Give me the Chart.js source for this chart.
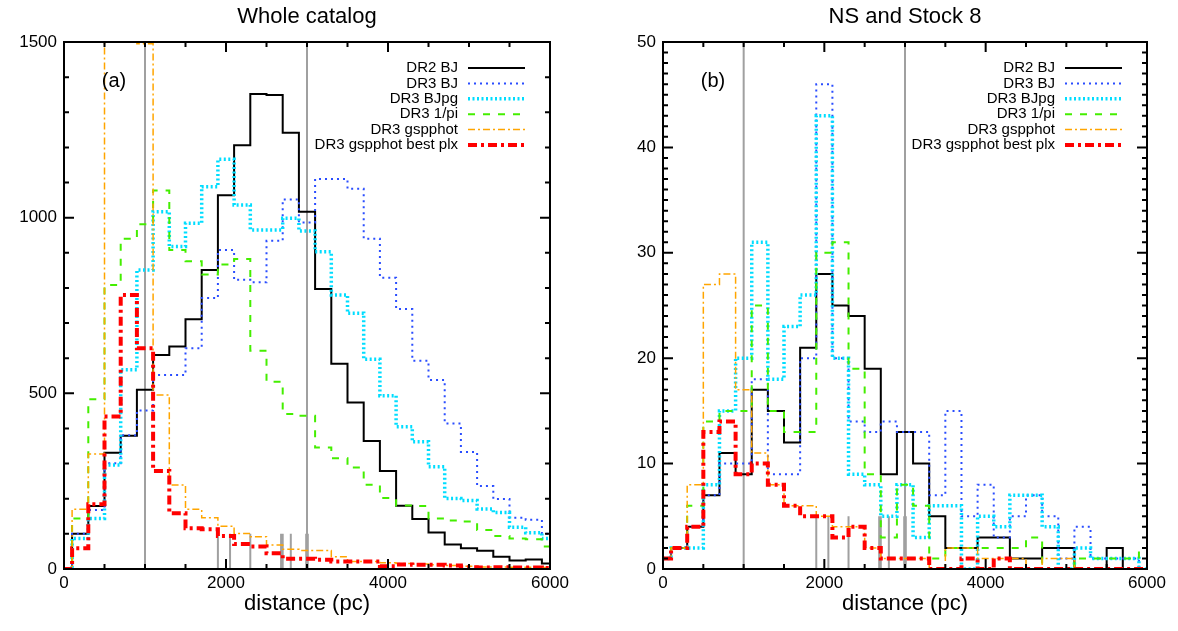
<!DOCTYPE html>
<html>
<head>
<meta charset="utf-8">
<script src="https://cdn.jsdelivr.net/npm/chart.js@4.4.1/dist/chart.umd.min.js"></script>
<style>
  html, body { margin: 0; padding: 0; background: #fff; }
  #wrap { position: relative; width: 1178px; height: 631px; }
  .box { position: absolute; top: 0; width: 589px; height: 631px; }
</style>
</head>
<body>
<div id="wrap">
  <div class="box" style="left:0"><canvas id="catChart" width="589" height="631"></canvas></div>
  <div class="box" style="left:589px"><canvas id="nsChart" width="589" height="631"></canvas></div>
</div>
<script>
// bin centres (pc), 200 pc wide bins
const binCenters = [0, 200, 400, 600, 800, 1000, 1200, 1400, 1600, 1800, 2000, 2200, 2400, 2600, 2800, 3000,
  3200, 3400, 3600, 3800, 4000, 4200, 4400, 4600, 4800, 5000, 5200, 5400, 5600, 5800, 6000];

const seriesNames = ["DR2 BJ", "DR3 BJ", "DR3 BJpg", "DR3 1/pi", "DR3 gspphot", "DR3 gspphot best plx"];

// (a) whole catalog
const catDR2BJ   = [0, 100, 179, 331, 379, 510, 609, 633, 711, 851, 1064, 1206, 1352, 1349, 1242, 1017, 797, 584, 474, 364, 279, 180, 142, 104, 70, 59, 52, 35, 24, 27, 16];
const catDR3BJ   = [0, 100, 168, 301, 381, 451, 552, 552, 628, 771, 908, 823, 816, 934, 1052, 986, 1110, 1110, 1082, 940, 829, 740, 593, 538, 414, 333, 236, 199, 146, 140, 100];
const catDR3BJpg = [0, 87, 144, 296, 567, 851, 1017, 918, 984, 1088, 1166, 1036, 965, 965, 998, 962, 903, 780, 728, 597, 493, 405, 362, 291, 201, 195, 171, 161, 119, 103, 87];
const catDR3Pi   = [0, 144, 483, 808, 940, 981, 1077, 908, 876, 838, 867, 882, 621, 533, 441, 436, 346, 315, 289, 240, 202, 181, 179, 144, 138, 135, 111, 94, 87, 85, 64];
const catGsp     = [0, 170, 327, 2400, 2100, 1495, 495, 239, 170, 146, 122, 101, 92, 68, 56, 53, 53, 35, 21, 21, 18, 16, 14, 12, 10, 8, 6, 6, 5, 5, 4];
const catGspBest = [0, 59, 184, 434, 780, 628, 279, 159, 116, 113, 94, 71, 64, 45, 29, 29, 26, 21, 21, 21, 8, 13, 12, 12, 10, 5, 4, 5, 4, 4, 3];

// (b) NS and Stock 8
const nsDR2BJ   = [1, 2, 4, 7, 11, 9, 17, 15, 12, 21, 28, 25, 24, 19, 9, 13, 10, 5, 2, 2, 3, 3, 1, 1, 2, 2, 0, 0, 2, 0, 0];
const nsDR3BJ   = [1, 2, 4, 7, 10, 10, 18, 9, 9, 20, 46, 20, 14, 13, 14, 13, 13, 7, 15, 5, 8, 3, 5, 7, 5, 1, 4, 1, 1, 1, 0];
const nsDR3BJpg = [1, 2, 2, 8, 15, 20, 31, 18, 23, 26, 43, 20, 9, 8, 5, 8, 3, 6, 6, 0, 5, 4, 7, 7, 4, 0, 2, 1, 1, 1, 0];
const nsDR3Pi   = [1, 2, 6, 14, 15, 15, 25, 15, 13, 13, 30, 31, 19, 9, 3, 8, 6, 1, 2, 2, 2, 2, 2, 3, 0, 0, 1, 1, 1, 1, 2];
const nsGsp     = [1, 2, 8, 27, 28, 17, 11, 8, 6, 6, 5, 4, 4, 2, 1, 1, 1, 0, 2, 2, 1, 1, 1, 0, 1, 1, 0, 0, 0, 0, 0];
const nsGspBest = [1, 2, 4, 13, 14, 9, 10, 8, 6, 5, 5, 3, 4, 2, 1, 1, 1, 0, 0, 1, 0, 1, 0, 0, 0, 0, 0, 0, 0, 0, 0];

// grey reference lines (pc)
const refDist = [1000, 3000];
const clusterDist = [1900, 2050, 2300, 2680, 2700, 2800, 2990, 3010];
const catMarkHeight = 100;
const nsMarkHeight = 5;

const xTicks = [0, 2000, 4000, 6000];
const catYTicks = [0, 500, 1000, 1500];
const nsYTicks = [0, 10, 20, 30, 40, 50];

const FONT = "'Liberation Sans', Arial, Helvetica, sans-serif";

const styles = [
  { color: "#000000", width: 2, dash: [], order: 6 },
  { color: "#2a4dff", width: 2, dash: [2, 4], order: 5 },
  { color: "#00ddff", width: 3.5, dash: [2, 2.5], order: 4 },
  { color: "#44ee00", width: 2, dash: [7, 8], order: 3 },
  { color: "#ffa500", width: 1.5, dash: [7, 3, 2, 3], order: 2 },
  { color: "#ff0000", width: 4, dash: [9, 4, 3, 4], order: 1 },
];

function greyLines(yTop, markH) {
  const pts = [];
  refDist.forEach(d => { pts.push({ x: d, y: 0 }, { x: d, y: yTop }, { x: d, y: null }); });
  clusterDist.forEach(d => { pts.push({ x: d, y: 0 }, { x: d, y: markH }, { x: d, y: null }); });
  return {
    label: "", data: pts, borderColor: "#a0a0a0", borderWidth: 2,
    pointRadius: 0, spanGaps: false, order: 10, isRef: true,
  };
}

function makeSets(series, yTop, markH) {
  const sets = series.map((vals, i) => ({
    label: seriesNames[i],
    data: binCenters.map((x, k) => ({ x: x, y: vals[k] })),
    stepped: "middle",
    borderColor: styles[i].color,
    borderWidth: styles[i].width,
    borderDash: styles[i].dash,
    pointRadius: 0,
    fill: false,
    order: styles[i].order,
  }));
  sets.push(greyLines(yTop, markH));
  return sets;
}

const framePlugin = {
  id: "frame",
  afterDatasetsDraw(chart, args, opts) {
    const ctx = chart.ctx;
    const a = chart.chartArea;
    const xs = chart.scales.x, ys = chart.scales.y;
    ctx.save();
    ctx.strokeStyle = "#000";
    ctx.lineWidth = 2;
    ctx.setLineDash([]);
    ctx.strokeRect(a.left, a.top, a.right - a.left, a.bottom - a.top);

    // inward ticks on all four sides
    ctx.beginPath();
    for (let v = xs.min; v <= xs.max; v += opts.xMinor) {
      const px = xs.getPixelForValue(v);
      const len = (v % opts.xMajor === 0) ? 10 : 5;
      ctx.moveTo(px, a.bottom); ctx.lineTo(px, a.bottom - len);
      ctx.moveTo(px, a.top); ctx.lineTo(px, a.top + len);
    }
    for (let v = ys.min; v <= ys.max; v += opts.yMinor) {
      const py = ys.getPixelForValue(v);
      const len = (v % opts.yMajor === 0) ? 10 : 5;
      ctx.moveTo(a.left, py); ctx.lineTo(a.left + len, py);
      ctx.moveTo(a.right, py); ctx.lineTo(a.right - len, py);
    }
    ctx.stroke();

    const cx = (a.left + a.right) / 2;
    ctx.fillStyle = "#000";
    ctx.textBaseline = "middle";
    ctx.textAlign = "center";
    ctx.font = "22px " + FONT;
    ctx.fillText(opts.title, cx, 17);
    ctx.font = "22px " + FONT;
    ctx.fillText("distance (pc)", cx, 604);
    ctx.font = "20px " + FONT;
    ctx.fillText(opts.tag, a.left + 50, 81);

    // legend: text then line sample
    ctx.font = "15px " + FONT;
    ctx.textAlign = "right";
    chart.data.datasets.forEach((ds, i) => {
      if (ds.isRef) return;
      const y = a.top + 26 + i * 15.4;
      ctx.fillStyle = "#000";
      ctx.fillText(ds.label, a.right - 92, y);
      ctx.beginPath();
      ctx.strokeStyle = ds.borderColor;
      ctx.lineWidth = ds.borderWidth;
      ctx.setLineDash(ds.borderDash);
      ctx.moveTo(a.right - 82, y);
      ctx.lineTo(a.right - 25, y);
      ctx.stroke();
    });
    ctx.restore();
  }
};

function buildChart(id, series, yTicks, yMinor, markH, leftW, rightPad, title, tag) {
  const yTop = yTicks[yTicks.length - 1];
  new Chart(document.getElementById(id).getContext("2d"), {
    type: "line",
    data: { datasets: makeSets(series, yTop, markH) },
    plugins: [framePlugin],
    options: {
      responsive: false,
      animation: false,
      events: [],
      layout: { padding: { top: 42, right: rightPad, left: 0, bottom: 0 } },
      plugins: {
        legend: { display: false },
        tooltip: { enabled: false },
        frame: { title: title, tag: tag, xMinor: 500, xMajor: 2000, yMinor: yMinor, yMajor: yTicks[1] },
      },
      scales: {
        x: {
          type: "linear", min: 0, max: 6000,
          afterBuildTicks: s => { s.ticks = xTicks.map(v => ({ value: v })); },
          afterFit: s => { s.height = 62; },
          grid: { display: false, drawTicks: false },
          border: { display: false },
          ticks: {
            color: "#000", font: { size: 17, family: FONT }, padding: 4, maxRotation: 0, autoSkip: false,
            callback: v => String(v),
          },
        },
        y: {
          type: "linear", min: 0, max: yTop,
          afterBuildTicks: s => { s.ticks = yTicks.map(v => ({ value: v })); },
          afterFit: s => { s.width = leftW; },
          grid: { display: false, drawTicks: false },
          border: { display: false },
          ticks: { color: "#000", font: { size: 17, family: FONT }, padding: 7, callback: v => String(v) },
        },
      },
    },
  });
}

buildChart("catChart", [catDR2BJ, catDR3BJ, catDR3BJpg, catDR3Pi, catGsp, catGspBest],
  catYTicks, 100, catMarkHeight, 64, 39, "Whole catalog", "(a)");
buildChart("nsChart", [nsDR2BJ, nsDR3BJ, nsDR3BJpg, nsDR3Pi, nsGsp, nsGspBest],
  nsYTicks, 1, nsMarkHeight, 74, 31, "NS and Stock 8", "(b)");
</script>
</body>
</html>
